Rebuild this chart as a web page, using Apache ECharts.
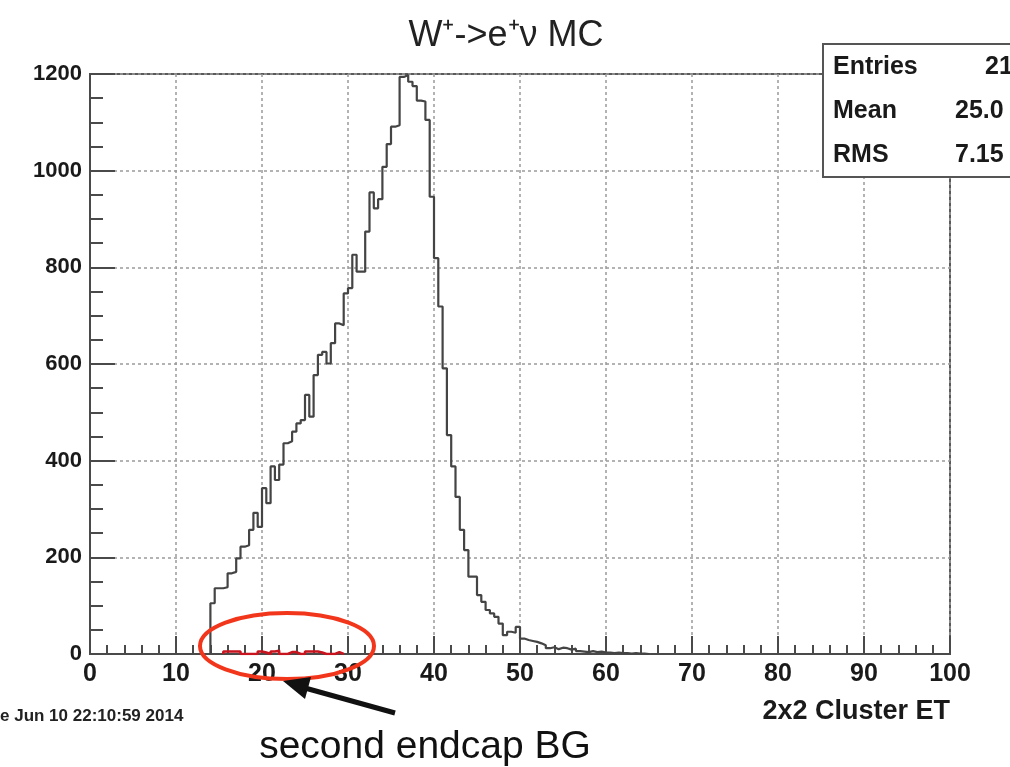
<!DOCTYPE html>
<html>
<head>
<meta charset="utf-8">
<script src="https://cdn.jsdelivr.net/npm/echarts@6/dist/echarts.min.js"></script>
<style>
html,body{margin:0;padding:0;background:#fff;}
#chart{width:1010px;height:767px;}
</style>
</head>
<body>
<div id="chart"></div>
<script>
// ---- data ----
const titleText = 'W\u207A->e\u207A\u03BD MC';
const xTitle = '2x2 Cluster ET';
const dateText = 'e Jun 10 22:10:59 2014';
const noteText = 'second endcap BG';
const statNames = ['Entries', 'Mean', 'RMS'];
const statValues = ['21', '25.0', '7.15'];
const xTicks = [0, 10, 20, 30, 40, 50, 60, 70, 80, 90, 100];
const yTicks = [0, 200, 400, 600, 800, 1000, 1200];

// W+ -> e+ nu MC histogram, bins of 0.5 starting at 14.0
const mainLow = 14.0;
const binWidth = 0.5;
const mainCounts = [
  105, 136, 136, 138, 167, 170, 198, 222, 225, 257,
  292, 263, 343, 312, 388, 360, 392, 436, 440, 460,
  477, 484, 536, 491, 577, 619, 625, 601, 643, 684,
  680, 746, 757, 826, 791, 791, 874, 955, 922, 941,
  1008, 1055, 1091, 1094, 1194, 1198, 1184, 1175, 1145, 1143,
  1105, 946, 819, 719, 591, 453, 388, 325, 257, 215,
  160, 160, 122, 108, 91, 84, 77, 63, 39, 46,
  44, 56, 32, 29, 27, 25, 22, 18, 12, 14,
  10, 13, 12, 9, 11, 6, 5, 4, 6, 4,
  5, 3, 3, 2, 3, 2, 2, 1, 2, 1,
  1, 0
];
// second endcap background (red), bins of 0.5 starting at 15.5
const bgLow = 15.5;
const bgCounts = [
  5, 5, 5, 5, 0, 0, 0, 0, 5, 3,
  0, 5, 7, 0, 0, 4, 4, 0, 0, 5,
  5, 5, 3, 0, 0, 0, 4, 0
];

function histPoints(low, w, counts) {
  const pts = [[low, 0]];
  counts.forEach((c, i) => pts.push([low + i * w, c]));
  pts.push([low + counts.length * w, 0]);
  return pts;
}

const chart = echarts.init(document.getElementById('chart'), null, {renderer: 'canvas'});
const FF = '"Liberation Sans", Arial, Helvetica, sans-serif';

const option = {
  animation: false,
  backgroundColor: '#fff',
  grid: {left: 90, right: 60, top: 74, bottom: 113, show: true, borderColor: '#5a5a5a', borderWidth: 2, backgroundColor: 'transparent'},
  xAxis: {
    type: 'value', min: xTicks[0], max: xTicks[xTicks.length - 1], interval: 10,
    axisLine: {show: true, lineStyle: {color: '#4a4a4a', width: 2}},
    axisTick: {show: true, inside: true, length: 18, lineStyle: {color: '#4a4a4a', width: 2}},
    minorTick: {show: true, splitNumber: 5, length: 9, lineStyle: {color: '#4a4a4a', width: 2}},
    axisLabel: {margin: 8, fontFamily: FF, fontWeight: 'bold', fontSize: 25, color: '#1a1a1a',
                formatter: v => String(v)},
    splitLine: {show: true, lineStyle: {color: '#9a9a9a', width: 1.5, type: [3, 3]}}
  },
  yAxis: {
    type: 'value', min: yTicks[0], max: yTicks[yTicks.length - 1], interval: 200,
    axisLine: {show: true, lineStyle: {color: '#4a4a4a', width: 2}},
    axisTick: {show: true, inside: true, length: 25, lineStyle: {color: '#4a4a4a', width: 2}},
    minorTick: {show: true, splitNumber: 4, length: 13, lineStyle: {color: '#4a4a4a', width: 2}},
    axisLabel: {margin: 8, fontFamily: FF, fontWeight: 'bold', fontSize: 22, color: '#1a1a1a',
                formatter: v => String(v)},
    splitLine: {show: true, lineStyle: {color: '#9a9a9a', width: 1.5, type: [3, 3]}}
  },
  series: [
    {
      type: 'line', step: 'end', symbol: 'none', z: 3,
      data: histPoints(mainLow, binWidth, mainCounts),
      lineStyle: {color: '#444', width: 2.2}
    },
    {
      type: 'line', step: 'end', symbol: 'none', z: 4,
      data: histPoints(bgLow, binWidth, bgCounts),
      lineStyle: {color: '#c8141e', width: 2.5}
    }
  ],
  graphic: [
    {type: 'text', z: 10,
     style: {text: titleText, x: 506, y: 36, align: 'center', verticalAlign: 'middle', font: 'normal 36px ' + FF, fill: '#222'}},
    {type: 'rect', shape: {x: 823, y: 44, width: 200, height: 133}, z: 10,
     style: {fill: '#fff', stroke: '#555', lineWidth: 2}},
    {type: 'text', z: 11, style: {text: statNames[0], x: 833, y: 67, verticalAlign: 'middle', font: 'bold 25px ' + FF, fill: '#1a1a1a'}},
    {type: 'text', z: 11, style: {text: statNames[1], x: 833, y: 111, verticalAlign: 'middle', font: 'bold 25px ' + FF, fill: '#1a1a1a'}},
    {type: 'text', z: 11, style: {text: statNames[2], x: 833, y: 155, verticalAlign: 'middle', font: 'bold 25px ' + FF, fill: '#1a1a1a'}},
    {type: 'text', z: 11, style: {text: statValues[0], x: 985, y: 67, verticalAlign: 'middle', font: 'bold 25px ' + FF, fill: '#1a1a1a'}},
    {type: 'text', z: 11, style: {text: statValues[1], x: 955, y: 111, verticalAlign: 'middle', font: 'bold 25px ' + FF, fill: '#1a1a1a'}},
    {type: 'text', z: 11, style: {text: statValues[2], x: 955, y: 155, verticalAlign: 'middle', font: 'bold 25px ' + FF, fill: '#1a1a1a'}},
    {type: 'text', z: 10, style: {text: xTitle, x: 950, y: 712, align: 'right', verticalAlign: 'middle', font: 'bold 27px ' + FF, fill: '#1a1a1a'}},
    {type: 'text', z: 10, style: {text: dateText, x: 0, y: 716, verticalAlign: 'middle', font: 'bold 17px ' + FF, fill: '#222'}},
    {type: 'text', z: 10, style: {text: noteText, x: 425, y: 747, align: 'center', verticalAlign: 'middle', font: 'normal 39px ' + FF, fill: '#111'}},
    {type: 'ellipse', shape: {cx: 287, cy: 646, rx: 87, ry: 33}, z: 12,
     style: {fill: 'none', stroke: '#f2361c', lineWidth: 4}},
    {type: 'line', shape: {x1: 395, y1: 713, x2: 305, y2: 688}, z: 12,
     style: {stroke: '#111', lineWidth: 5}},
    {type: 'polygon', shape: {points: [[283, 681], [311, 677], [305, 699]]}, z: 12,
     style: {fill: '#111'}}
  ]
};
chart.setOption(option);
</script>
</body>
</html>
